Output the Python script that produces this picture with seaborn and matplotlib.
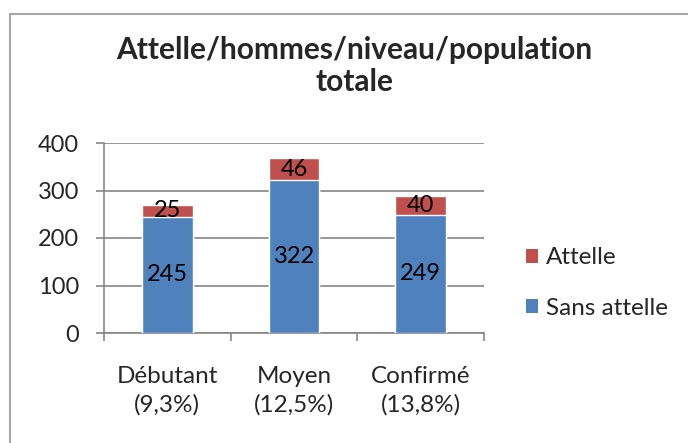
import matplotlib
matplotlib.use('Agg')
import matplotlib.pyplot as plt
import pandas as pd
import seaborn as sns
from matplotlib.patches import Patch, Rectangle

# données
niveaux = ['Débutant\n(9,3%)', 'Moyen\n(12,5%)', 'Confirmé\n(13,8%)']
sans_attelle = [245, 322, 249]
attelle = [25, 46, 40]
yticks = [0, 100, 200, 300, 400]

bleu = '#4F81BD'
rouge = '#C0504D'
gris = '#868686'

sns.set_theme(style='white')
plt.rcParams['font.family'] = ['Lato', 'DejaVu Sans']

df = pd.DataFrame({'niveau': niveaux, 'sans': sans_attelle, 'avec': attelle})
df['total'] = df['sans'] + df['avec']

fig = plt.figure(figsize=(6.88, 4.43), dpi=100)
ax = fig.add_axes([104 / 688, 110 / 443, 380 / 688, 190 / 443])

# barres empilées : total en rouge puis la partie bleue par-dessus
sns.barplot(data=df, x='niveau', y='total', color=rouge, width=0.4,
            saturation=1, ax=ax, zorder=3)
sns.barplot(data=df, x='niveau', y='sans', color=bleu, width=0.4,
            saturation=1, ax=ax, zorder=3)

bars_rouges = ax.containers[0]
bars_bleues = ax.containers[1]
ax.bar_label(bars_bleues, labels=[str(v) for v in df['sans']],
             label_type='center', fontsize=17, color='black')
# étiquettes du segment rouge au centre du segment
for rect, v, base in zip(bars_rouges, df['avec'], df['sans']):
    ax.text(rect.get_x() + rect.get_width() / 2, base + v / 2, str(v),
            ha='center', va='center', fontsize=17, color='black', zorder=5)

ax.set_xlim(-0.5, 2.5)
ax.set_ylim(0, 400)
ax.set_yticks(yticks)
ax.set_xlabel('')
ax.set_ylabel('')
ax.yaxis.grid(True, color=gris, linewidth=1.2, zorder=0)
ax.set_axisbelow(True)

for s in ['top', 'right']:
    ax.spines[s].set_visible(False)
ax.spines['left'].set_color(gris)
ax.spines['bottom'].set_color(gris)
ax.spines['left'].set_linewidth(1.2)
ax.spines['bottom'].set_linewidth(1.2)

ax.tick_params(axis='y', which='major', left=True, length=6, width=1.2,
               color=gris, labelsize=17, pad=12, direction='out')
ax.tick_params(axis='x', which='major', bottom=False, labelsize=17.5, pad=18)
ax.set_xticks([-0.5, 0.5, 1.5, 2.5], minor=True)
ax.tick_params(axis='x', which='minor', bottom=True, length=6, width=1.2,
               color=gris, direction='out')
for lab in ax.get_xticklabels():
    lab.set_linespacing(1.4)

fig.text(354 / 688, 1 - 66 / 443, 'Attelle/hommes/niveau/population\ntotale',
         ha='center', va='center', fontsize=21.5, fontweight='bold',
         linespacing=1.15)

handles = [Patch(facecolor=rouge, edgecolor='none', label='Attelle'),
           Patch(facecolor=bleu, edgecolor='none', label='Sans attelle')]
fig.legend(handles=handles, loc='center left',
           bbox_to_anchor=(516 / 688, 1 - 283 / 443), frameon=False,
           fontsize=17.5, handlelength=0.5, handleheight=0.5,
           handletextpad=0.35, labelspacing=1.2, borderaxespad=0)

# cadre du graphique
fig.patches.append(Rectangle((10 / 688, -0.1), 1.2, 1.1 - 14 / 443,
                             transform=fig.transFigure, fill=False,
                             edgecolor='#A6A6A6', linewidth=1.5))

fig.savefig('out.png', dpi=100)
